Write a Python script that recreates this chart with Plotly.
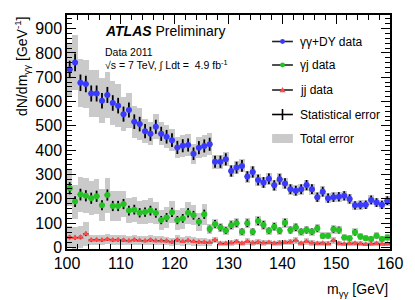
import plotly.graph_objects as go

# ---------------- data ----------------
bin_low = 100.0
bin_width = 1.0
n_bins = 60
mass = [bin_low + bin_width * (i + 0.5) for i in range(n_bins)]

gg_dy = [732, 761, 677, 672, 633, 633, 603, 627, 594, 583,
         548, 565, 517, 507, 478, 467, 496, 467, 455, 441,
         411, 418, 421, 385, 410, 417, 424, 352, 352, 362,
         314, 328, 335, 291, 310, 277, 267, 282, 255, 280,
         263, 239, 233, 239, 256, 239, 206, 229, 202, 206,
         208, 212, 199, 173, 174, 175, 195, 184, 175, 192]
gg_dy_stat = [36, 37, 34, 34, 33, 33, 32, 33, 32, 32,
              31, 31, 30, 30, 29, 29, 29, 29, 28, 28,
              27, 27, 27, 26, 27, 27, 27, 25, 25, 25,
              23, 24, 24, 22, 23, 22, 22, 22, 21, 22,
              21, 20, 20, 20, 21, 20, 19, 20, 19, 19,
              19, 19, 19, 17, 17, 17, 18, 18, 17, 18]
gg_dy_tot = [110, 112, 100, 100, 95, 95, 92, 95, 90, 88,
             70, 72, 66, 65, 50, 48, 52, 48, 47, 46,
             44, 45, 45, 42, 44, 45, 46, 28, 28, 29,
             26, 27, 27, 25, 26, 24, 24, 25, 23, 24,
             23, 22, 22, 22, 23, 22, 21, 22, 21, 21,
             21, 21, 21, 19, 19, 19, 20, 20, 19, 20]

gj = [243, 188, 217, 212, 202, 210, 173, 215, 170, 170,
      178, 151, 155, 142, 145, 151, 141, 112, 123, 144,
      112, 119, 142, 132, 105, 136, 75, 96, 81, 69,
      91, 99, 64, 99, 64, 108, 92, 68, 85, 68,
      101, 71, 82, 64, 71, 64, 78, 47, 48, 74,
      71, 40, 37, 62, 44, 37, 34, 48, 34, 40]
gj_stat = [25, 22, 24, 23, 23, 23, 21, 23, 21, 21,
           21, 20, 20, 19, 19, 20, 19, 17, 18, 19,
           17, 18, 19, 18, 16, 19, 14, 16, 15, 14,
           16, 16, 13, 16, 13, 17, 16, 13, 15, 13,
           16, 14, 15, 13, 14, 13, 14, 11, 11, 14,
           14, 10, 10, 13, 11, 10, 10, 11, 10, 10]
gj_tot = [75, 70, 72, 72, 70, 72, 65, 72, 62, 62,
          55, 50, 52, 48, 48, 50, 47, 40, 42, 45,
          40, 42, 45, 42, 38, 44, 20, 22, 20, 18,
          20, 21, 17, 21, 17, 22, 20, 17, 19, 17,
          20, 18, 19, 17, 18, 17, 18, 14, 14, 18,
          18, 13, 13, 16, 14, 13, 13, 14, 13, 13]

jj = [41, 40, 41, 55, 30, 31, 30, 33, 30, 31,
      29, 27, 31, 28, 27, 30, 27, 27, 26, 22,
      30, 24, 28, 24, 22, 21, 20, 30, 16, 16,
      18, 23, 17, 24, 18, 21, 18, 20, 17, 18,
      20, 22, 28, 17, 24, 18, 16, 17, 15, 28,
      16, 14, 16, 17, 15, 12, 14, 16, 13, 14]
jj_stat = [8, 8, 8, 9, 7, 7, 7, 7, 7, 7,
           7, 6, 7, 6, 6, 7, 6, 6, 6, 6,
           7, 6, 7, 6, 6, 6, 6, 7, 5, 5,
           5, 6, 5, 6, 5, 6, 5, 5, 5, 5,
           5, 6, 7, 5, 6, 5, 5, 5, 5, 7,
           5, 5, 5, 5, 5, 4, 5, 5, 4, 5]
jj_tot = [45, 45, 45, 50, 20, 20, 20, 20, 20, 20,
          20, 18, 20, 18, 18, 20, 18, 18, 18, 16,
          20, 17, 19, 17, 16, 16, 15, 14, 10, 10,
          11, 13, 10, 13, 11, 12, 11, 12, 10, 11,
          12, 12, 15, 10, 13, 11, 10, 10, 9, 15,
          10, 9, 10, 10, 9, 8, 9, 10, 8, 9]

x_ticks = [100, 110, 120, 130, 140, 150, 160]
y_ticks = [0, 100, 200, 300, 400, 500, 600, 700, 800, 900]

# ---------------- styling ----------------
FONT = "Liberation Sans, Arial, Helvetica, sans-serif"
GRAY = "#cacaca"
BLUE = "#3a3aff"
GREEN = "#22c322"
RED = "#ff4a4a"

W, H = 415, 300
L, R, T, B = 67, 22, 15, 51
PW, PH = W - L - R, H - T - B


def px(x):
    return (x - L) / PW


def py(y):
    return (H - B - y) / PH


series = [
    ("γγ+DY data", gg_dy, gg_dy_stat, gg_dy_tot, BLUE, "circle", 6),
    ("γj data", gj, gj_stat, gj_tot, GREEN, "circle", 6),
    ("jj data", jj, jj_stat, jj_tot, RED, "triangle-up", 6),
]

fig = go.Figure()

# total error boxes
for name, vals, stat, tot, col, sym, sz in series:
    fig.add_trace(go.Bar(
        x=mass,
        y=[2 * t for t in tot],
        base=[v - t for v, t in zip(vals, tot)],
        width=bin_width,
        marker=dict(color=GRAY, line=dict(width=0)),
        showlegend=False,
        hoverinfo="skip",
    ))

# data points with statistical errors
for name, vals, stat, tot, col, sym, sz in series:
    fig.add_trace(go.Scatter(
        x=mass,
        y=vals,
        mode="markers",
        name=name,
        marker=dict(color=col, symbol=sym, size=sz, line=dict(width=0)),
        error_y=dict(type="data", array=stat, visible=True,
                     color="black", thickness=1.8, width=0),
        error_x=dict(type="constant", value=bin_width / 2, visible=True,
                     color="black", thickness=1.2, width=0),
        showlegend=False,
    ))

shapes = []
annotations = []

# ---- legend (manual, ROOT style) ----
leg_rows = [41.5, 65, 90, 114.5, 138.5]
lx0, lx1, lxm, ltx = 274, 295, 284.5, 300
leg_names = ["γγ+DY data", "γj data", "jj data", "Statistical error", "Total error"]
for i, (name, vals, stat, tot, col, sym, sz) in enumerate(series):
    yy = leg_rows[i]
    shapes.append(dict(type="line", xref="paper", yref="paper",
                       x0=px(lx0), x1=px(lx1), y0=py(yy), y1=py(yy),
                       line=dict(color="#222222", width=1.6)))
    if sym == "circle":
        shapes.append(dict(type="circle", xref="paper", yref="paper",
                           xsizemode="pixel", ysizemode="pixel",
                           xanchor=px(lxm), yanchor=py(yy),
                           x0=-2.4, x1=2.4, y0=-2.4, y1=2.4,
                           fillcolor=col, line=dict(width=0)))
    else:
        shapes.append(dict(type="path", xref="paper", yref="paper",
                           xsizemode="pixel", ysizemode="pixel",
                           xanchor=px(lxm), yanchor=py(yy),
                           path="M -3,-2.2 L 3,-2.2 L 0,3 Z",
                           fillcolor=col, line=dict(width=0)))
# stat error cross
yy = leg_rows[3]
shapes.append(dict(type="line", xref="paper", yref="paper",
                   x0=px(lx0), x1=px(lx1), y0=py(yy), y1=py(yy),
                   line=dict(color="black", width=1.6)))
shapes.append(dict(type="line", xref="paper", yref="paper",
                   x0=px(lxm), x1=px(lxm), y0=py(yy - 5.5), y1=py(yy + 5.5),
                   line=dict(color="black", width=1.6)))
# total error box
yy = leg_rows[4]
shapes.append(dict(type="rect", xref="paper", yref="paper",
                   x0=px(lx0), x1=px(lx1), y0=py(yy - 4.5), y1=py(yy + 4.5),
                   fillcolor=GRAY, line=dict(width=0)))

for name, yy in zip(leg_names, leg_rows):
    annotations.append(dict(xref="paper", yref="paper", x=px(ltx), y=py(yy),
                            xanchor="left", yanchor="middle", showarrow=False,
                            text=name, font=dict(family=FONT, size=12, color="black")))

# ---- ATLAS labels ----
annotations.append(dict(xref="paper", yref="paper", x=px(103), y=py(31),
                        xanchor="left", yanchor="middle", showarrow=False,
                        text="<b><i>ATLAS</i></b> Preliminary",
                        font=dict(family=FONT, size=14, color="black")))
annotations.append(dict(xref="paper", yref="paper", x=px(103), y=py(52),
                        xanchor="left", yanchor="middle", showarrow=False,
                        text="Data 2011",
                        font=dict(family=FONT, size=10.5, color="black")))
annotations.append(dict(xref="paper", yref="paper", x=px(103), y=py(64),
                        xanchor="left", yanchor="middle", showarrow=False,
                        text="√s = 7 TeV, ∫ Ldt =  4.9 fb<sup>-1</sup>",
                        font=dict(family=FONT, size=10.5, color="black")))

# ---- axis titles ----
annotations.append(dict(xref="paper", yref="paper", x=px(393), y=py(290),
                        xanchor="right", yanchor="middle", showarrow=False,
                        text="m<sub>γγ</sub> [GeV]",
                        font=dict(family=FONT, size=14, color="black")))
annotations.append(dict(xref="paper", yref="paper", x=px(21), y=py(15),
                        xanchor="center", yanchor="top", showarrow=False,
                        textangle=-90,
                        text="dN/dm<sub>γγ</sub> [GeV<sup>-1</sup>]",
                        font=dict(family=FONT, size=14, color="black")))

fig.update_layout(
    width=W, height=H,
    margin=dict(l=L, r=R, t=T, b=B),
    paper_bgcolor="white", plot_bgcolor="white",
    barmode="overlay",
    bargap=0,
    showlegend=False,
    shapes=shapes,
    annotations=annotations,
    font=dict(family=FONT, color="black"),
)

fig.update_xaxes(
    range=[100, 160],
    tickvals=x_ticks,
    ticktext=[str(v) for v in x_ticks],
    ticks="inside", ticklen=9, tickwidth=1, tickcolor="black",
    minor=dict(dtick=2, tick0=100, ticks="inside", ticklen=5, tickwidth=1, tickcolor="black"),
    showline=True, linecolor="black", linewidth=1.5, mirror="allticks",
    showgrid=False, zeroline=False,
    ticklabelstandoff=-1,
    tickfont=dict(family=FONT, size=16, color="black"),
)
fig.update_yaxes(
    range=[-7, 956],
    tickvals=y_ticks,
    ticktext=[str(v) for v in y_ticks],
    ticks="inside", ticklen=9, tickwidth=1, tickcolor="black",
    minor=dict(dtick=20, tick0=0, ticks="inside", ticklen=5, tickwidth=1, tickcolor="black"),
    showline=True, linecolor="black", linewidth=1.5, mirror="allticks",
    showgrid=False, zeroline=False,
    tickfont=dict(family=FONT, size=16, color="black"),
)

fig.write_html(
    "out.html",
    config={"displayModeBar": False},
    post_script="document.body.style.margin='0px';document.body.style.overflow='hidden';",
)
